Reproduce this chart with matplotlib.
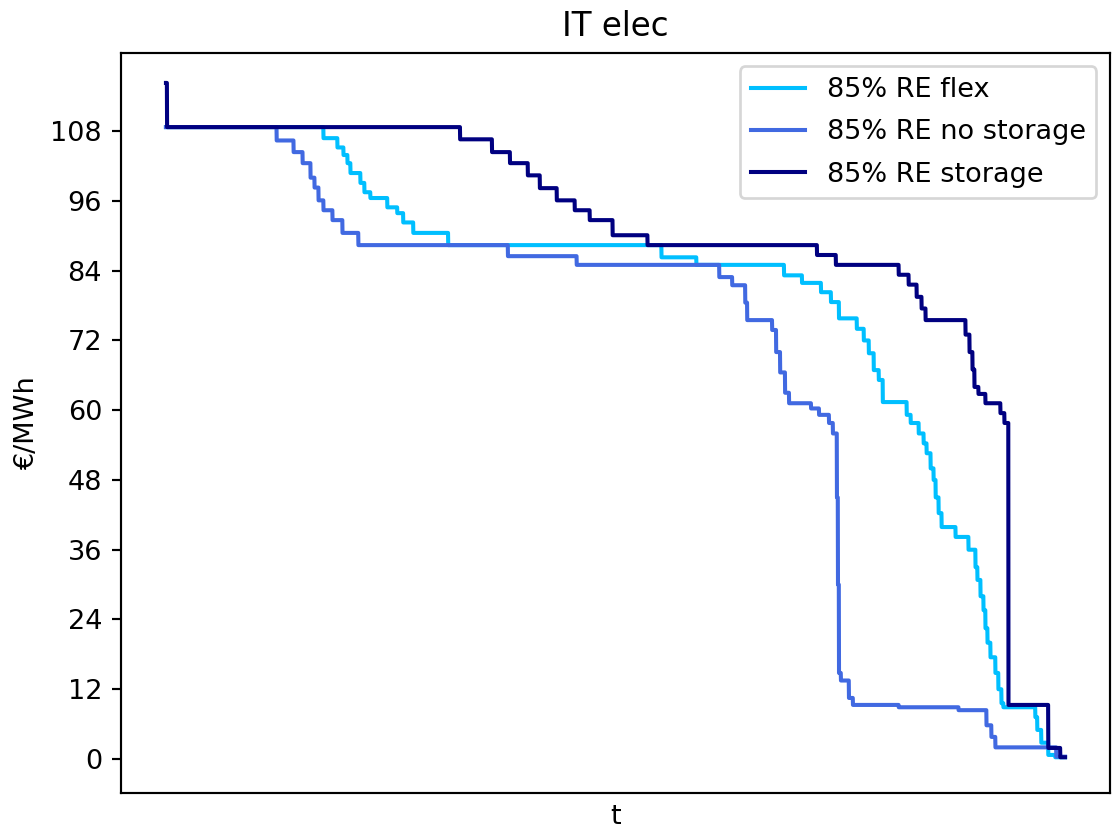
import numpy as np
import matplotlib
matplotlib.use('Agg')
import matplotlib.pyplot as plt

# hours of the year, sorted price duration curves (€/MWh)
n_hours = 8760

flex_price = [108.7, 106.8, 105.2, 103.9, 102.5, 100.8, 99.1, 97.5, 96.5, 94.9,
              93.9, 92.3, 90.5, 88.4, 86.3, 85.0, 83.2, 81.9, 80.3, 78.6,
              75.8, 74.0, 72.0, 69.8, 66.9, 65.2, 61.4, 59.2, 57.8, 56.0,
              54.3, 52.6, 50.0, 48.0, 45.0, 42.3, 39.9, 38.2, 36.0, 33.0,
              30.8, 28.0, 25.6, 22.5, 20.0, 17.5, 14.8, 12.0, 9.6, 8.9,
              7.2, 5.0, 2.8, 0.7, 0.3]
flex_end = [1534, 1670, 1729, 1768, 1797, 1894, 1933, 1991, 2156, 2253,
            2311, 2409, 2749, 4827, 5167, 6021, 6196, 6381, 6478, 6556,
            6730, 6798, 6847, 6895, 6944, 6983, 7216, 7255, 7333, 7381,
            7410, 7449, 7478, 7498, 7527, 7556, 7692, 7818, 7886, 7905,
            7935, 7964, 7983, 8003, 8032, 8080, 8109, 8139, 8158, 8469,
            8488, 8527, 8595, 8663, 8760]

nostor_price = [108.7, 106.4, 104.4, 102.5, 100.0, 98.3, 96.1, 94.4, 92.7, 90.5,
                88.4, 86.5, 85.0, 82.9, 81.5, 78.5, 75.5, 73.8, 70.0, 66.5,
                63.0, 61.2, 60.3, 59.2, 57.8, 56.0, 45.0, 30.0, 14.8, 13.5,
                10.5, 9.3, 8.9, 8.4, 5.8, 3.8, 2.0, 0.4]
nostor_end = [1078, 1243, 1331, 1408, 1447, 1486, 1534, 1622, 1719, 1874,
              3331, 4001, 5390, 5516, 5643, 5662, 5905, 5944, 5983, 6031,
              6070, 6284, 6362, 6459, 6497, 6536, 6546, 6556, 6575, 6653,
              6692, 7138, 7721, 7993, 8041, 8080, 8673, 8760]

stor_price = [116.3, 108.7, 106.6, 104.4, 102.5, 100.4, 98.2, 96.1, 94.4, 92.7,
              90.1, 88.4, 86.7, 85.0, 83.3, 81.6, 79.5, 77.5, 75.5, 73.0,
              70.0, 67.0, 64.0, 62.8, 61.2, 59.5, 57.8, 9.3, 1.9, 0.3]
stor_end = [10, 2865, 3176, 3351, 3525, 3642, 3807, 3982, 4128, 4351,
            4691, 6342, 6526, 7138, 7235, 7313, 7361, 7400, 7789, 7828,
            7857, 7876, 7915, 7983, 8129, 8168, 8207, 8595, 8712, 8760]

labels = ['85% RE flex', '85% RE no storage', '85% RE storage']
colors = ['deepskyblue', 'royalblue', 'navy']


def duration_curve(prices, ends):
    counts = np.diff(np.concatenate([[0], ends]))
    return np.repeat(prices, counts)


def main():
    dpi = 195
    fig = plt.figure(figsize=(1115 / dpi, 836 / dpi), dpi=dpi)
    ax = fig.add_axes([121 / 1115, 1 - 793 / 836, 989 / 1115, 740.3 / 836])
    t = np.arange(n_hours)
    series = [(flex_price, flex_end), (nostor_price, nostor_end), (stor_price, stor_end)]
    for (p, e), lab, c in zip(series, labels, colors):
        ax.plot(t, duration_curve(p, e), color=c, lw=1.5, label=lab)
    ax.set_ylim(-5.85, 121.5)
    ax.set_yticks(np.arange(0, 109, 12))
    ax.set_xticks([])
    ax.set_xlabel('t')
    ax.set_ylabel('€/MWh')
    ax.set_title('IT elec')
    ax.legend(loc='upper right', labelspacing=0.6)
    fig.savefig('out.png', dpi=dpi)


if __name__ == '__main__':
    main()
